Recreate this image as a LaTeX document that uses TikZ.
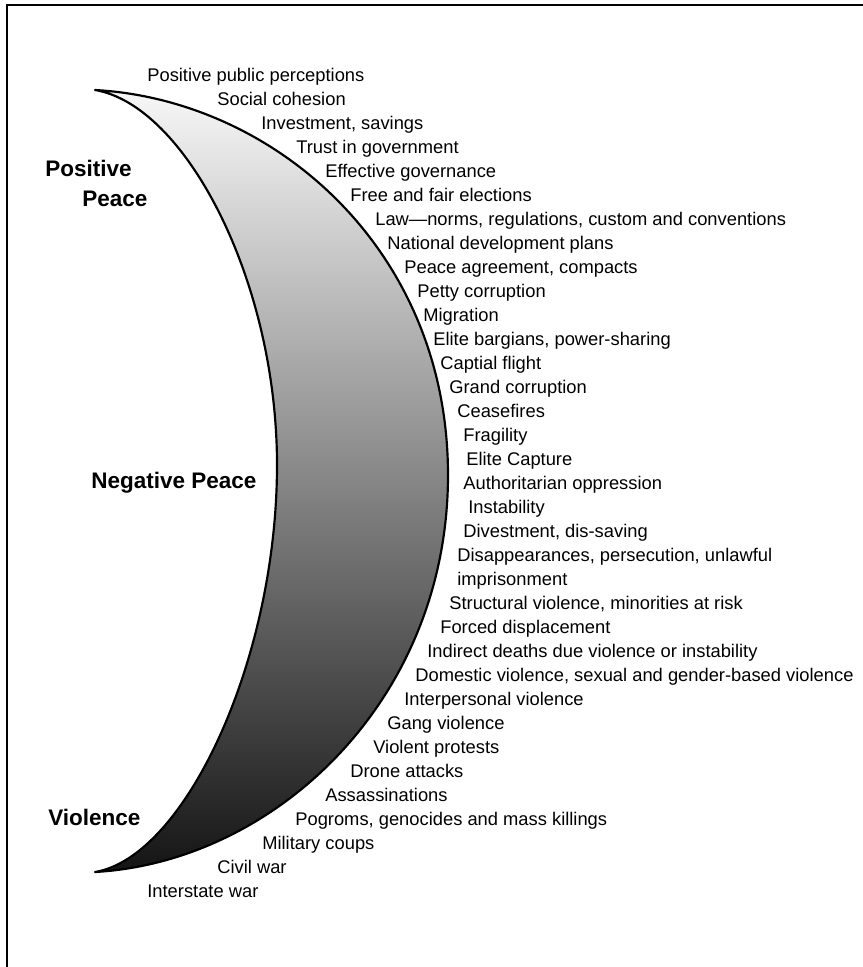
\documentclass[tikz,border=0pt]{standalone}
\usepackage{fontspec}
\setmainfont{Liberation Sans}
\usepackage{tikz}

\begin{document}
\begin{tikzpicture}[x=0.6pt, y=-0.6pt,
    every node/.style={inner sep=0pt},
    item/.style={anchor=base west, font=\fontsize{11}{13}\selectfont},
    stage/.style={anchor=base west, font=\fontsize{13.5}{16}\selectfont\bfseries},
    crescent/.style={draw=black, line width=1.3pt, line join=round,
        top color=black!3, bottom color=black!92},
    frame/.style={draw=black, line width=1pt}
]
\useasboundingbox (0,0) rectangle (863,967);
\draw[frame] (7,967) -- (7,5) -- (863,5);
% the band, light at the top and dark at the bottom
\path[crescent] (95,90) .. controls (275,100) and (448,250) .. (448,475)
    .. controls (448,700) and (275,862) .. (95,872)
    .. controls (185,857) and (277,660) .. (277,465)
    .. controls (277,280) and (185,105) .. cycle;
\node[stage] (pos)      at (45,176) {Positive};
\node[stage] (pospeace) at (82,206) {Peace};
\node[stage] (neg)      at (91,488) {Negative Peace};
\node[stage] (viol)     at (48,825) {Violence};
\node[item] (perc)      at (147,81)  {Positive public perceptions};
\node[item] (cohesion)  at (217,105) {Social cohesion};
\node[item] (invest)    at (261,129) {Investment, savings};
\node[item] (trust)     at (296,153) {Trust in government};
\node[item] (govern)    at (325,177) {Effective governance};
\node[item] (elect)     at (350,201) {Free and fair elections};
\node[item] (law)       at (375,225) {Law---norms, regulations, custom and conventions};
\node[item] (plans)     at (387,249) {National development plans};
\node[item] (agree)     at (404,273) {Peace agreement, compacts};
\node[item] (petty)     at (417,297) {Petty corruption};
\node[item] (migr)      at (423,321) {Migration};
\node[item] (bargain)   at (433,345) {Elite bargians, power-sharing};
\node[item] (flight)    at (440,369) {Captial flight};
\node[item] (grand)     at (449,393) {Grand corruption};
\node[item] (cease)     at (457,417) {Ceasefires};
\node[item] (fragile)   at (463,441) {Fragility};
\node[item] (capture)   at (466,465) {Elite Capture};
\node[item] (oppress)   at (463,489) {Authoritarian oppression};
\node[item] (instab)    at (468,513) {Instability};
\node[item] (divest)    at (463,537) {Divestment, dis-saving};
\node[item] (disapp)    at (457,561) {Disappearances, persecution, unlawful};
\node[item] (impris)    at (457,585) {imprisonment};
\node[item] (struct)    at (449,609) {Structural violence, minorities at risk};
\node[item] (displace)  at (440,633) {Forced displacement};
\node[item] (indirect)  at (427,657) {Indirect deaths due violence or instability};
\node[item] (domestic)  at (415,681) {Domestic violence, sexual and gender-based violence};
\node[item] (interp)    at (404,705) {Interpersonal violence};
\node[item] (gang)      at (387,729) {Gang violence};
\node[item] (protest)   at (373,753) {Violent protests};
\node[item] (drone)     at (350,777) {Drone attacks};
\node[item] (assass)    at (325,801) {Assassinations};
\node[item] (pogrom)    at (295,825) {Pogroms, genocides and mass killings};
\node[item] (coup)      at (262,849) {Military coups};
\node[item] (civil)     at (217,873) {Civil war};
\node[item] (interstate) at (147,897) {Interstate war};
\end{tikzpicture}
\end{document}
